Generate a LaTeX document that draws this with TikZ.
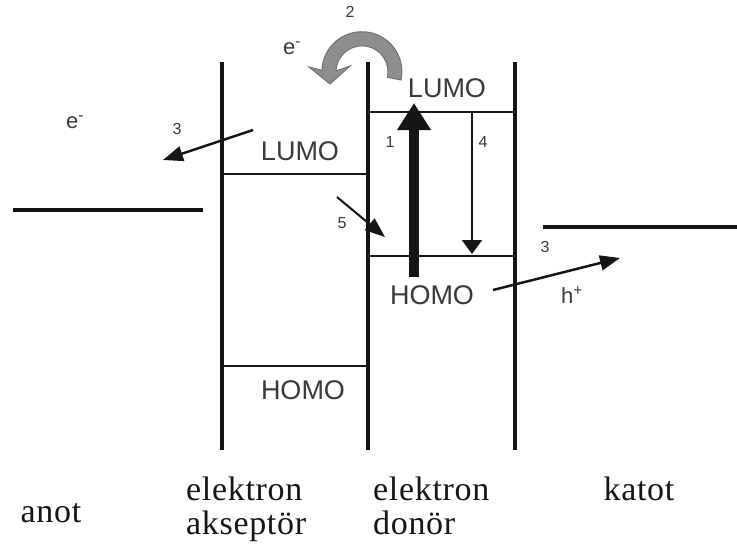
\documentclass[tikz,border=0pt]{standalone}
\usepackage{fontspec}
\setmainfont{Liberation Serif}
\setsansfont{Liberation Sans}
\newfontfamily\layerfont[LetterSpace=2]{Liberation Serif}
\usetikzlibrary{arrows.meta,positioning}
\definecolor{ink}{HTML}{151515}
\definecolor{txt}{HTML}{3A3A3A}
\definecolor{swirl}{HTML}{8E8E8E}

\begin{document}
\begin{tikzpicture}[x=1pt,y=-1pt,
wall/.style={line width=3.5pt,ink},
lvl/.style={line width=2.5pt,ink},
elec/.style={line width=3.5pt,ink},
orb/.style={font=\sffamily\fontsize{27}{27}\selectfont,txt,inner sep=0pt},
num/.style={font=\sffamily\fontsize{16}{16}\selectfont,txt,inner sep=0pt},
chg/.style={font=\sffamily\fontsize{22}{22}\selectfont,txt,inner sep=0pt},
layer/.style={font=\layerfont\fontsize{34}{34}\selectfont,ink,align=left,inner sep=0pt},
hop/.style={-{Triangle[length=20pt,width=15pt]},line width=2.5pt,ink}]
\useasboundingbox (0,0) rectangle (737,554);
% cells
\draw[wall] (222,62) -- (222,450);
\draw[wall] (368,62) -- (368,450);
\draw[wall] (515,62) -- (515,450);
\draw[lvl] (222,174) -- (368,174);
\draw[lvl] (222,366) -- (368,366);
\draw[lvl] (368,112) -- (515,112);
\draw[lvl] (368,256) -- (515,256);
% electrodes
\draw[elec] (13,210) -- (203,210);
\draw[elec] (543,227) -- (737,227);
\node[orb] (lumoA) at (300,151) {LUMO};
\node[orb] (homoA) at (303,390) {HOMO};
\node[orb] (lumoD) at (447,88) {LUMO};
\node[orb] (homoD) at (432,295) {HOMO};
% transfer arrows
\coordinate (out3a) at (253,130);
\coordinate (in3a) at (163,160);
\coordinate (out5) at (337,197);
\coordinate (in5) at (385,237);
\coordinate (out1) at (414,277);
\coordinate (in1) at (414,103);
\coordinate (out4) at (472,112);
\coordinate (in4) at (472,254);
\coordinate (out3b) at (493,290);
\coordinate (in3b) at (620,258);
\draw[hop] (out3a) -- (in3a);
\draw[hop,line width=2pt] (out5) -- (in5);
\draw[-{Triangle[length=27pt,width=32pt]},line width=10pt,ink] (out1) -- (in1);
\draw[-{Triangle[length=14pt,width=20pt]},line width=2pt,ink] (out4) -- (in4);
\draw[hop] (out3b) -- (in3b);
\filldraw[fill=swirl,draw=ink!60,line width=1pt] (401,80)
  arc[start angle=12,end angle=-178,radius=40] -- (309,67) -- (330,84)
  -- (350,66) -- (336,71) arc[start angle=-178,end angle=12,radius=26] -- cycle;
\node[num] (n2) at (350,12) {2};
\node[num] (n3a) at (177,129) {3};
\node[num] (n5) at (342,223) {5};
\node[num] (n1) at (390,142) {1};
\node[num] (n4) at (483,142) {4};
\node[num] (n3b) at (545,247) {3};
\node[chg] (eTop) at (292,48) {e\textsuperscript{-}};
\node[chg] (eLeft) at (75,122) {e\textsuperscript{-}};
\node[chg] (hole) at (572,295) {h\textsuperscript{+}};
% layer names
\node[layer,anchor=base] (anot) at (51,522) {anot};
\node[layer,anchor=north west] (acc) at (186,477) {elektron\\akseptör};
\node[layer,anchor=north west] (don) at (373,477) {elektron\\donör};
\node[layer,anchor=base] (katot) at (639,500) {katot};
\end{tikzpicture}
\end{document}
